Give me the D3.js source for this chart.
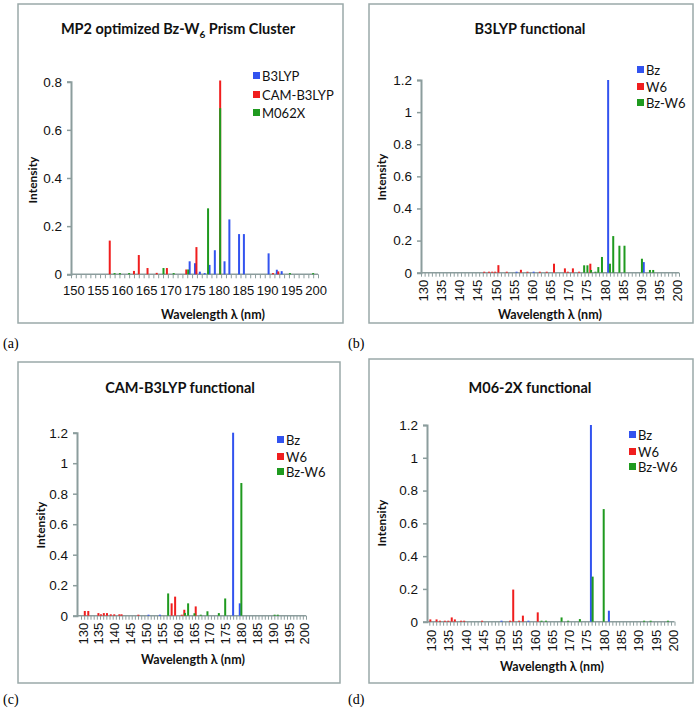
<!DOCTYPE html>
<html>
<head>
<meta charset="utf-8">
<script src="https://cdn.jsdelivr.net/npm/d3@7"></script>
<style>
  html, body { margin: 0; padding: 0; background: #fff; }
  svg { display: block; font-family: Lato, "Open Sans", sans-serif; }
</style>
</head>
<body>
<svg id="chart" width="694" height="712"></svg>
<script>
// ---------- DATA (wavelength nm, intensity) ----------
// Panel (a): MP2 optimized Bz-W6 prism cluster
const a_B3LYP = [[174.0,0.054],[175.1,0.046],[176.1,0.011],[177.1,0.005],[178.1,0.039],[179.2,0.100],[181.2,0.054],[182.2,0.228],[184.2,0.167],[185.2,0.167],[190.3,0.087],[192.0,0.019],[193.0,0.013]];
const a_CAMB3LYP = [[157.5,0.140],[162.5,0.014],[163.5,0.080],[165.3,0.026],[167.2,0.006],[169.3,0.026],[173.3,0.020],[175.4,0.113],[180.3,0.805],[191.2,0.005],[192.3,0.012]];
const a_M062X = [[158.5,0.005],[159.6,0.005],[161.5,0.005],[168.6,0.026],[170.7,0.005],[173.7,0.020],[177.8,0.274],[180.3,0.690],[194.7,0.005],[199.5,0.005]];

// Panel (b): B3LYP functional
const b_Bz = [[155.8,0.006],[160.5,0.006],[181.0,1.2],[190.8,0.066]];
const b_W6 = [[146.9,0.006],[148.2,0.006],[149.1,0.006],[149.9,0.006],[150.8,0.047],[153.1,0.006],[157.0,0.018],[158.8,0.006],[162.2,0.005],[164.1,0.006],[166.1,0.056],[169.1,0.027],[169.9,0.006],[171.3,0.027],[173.0,0.006],[176.1,0.056]];
const b_BzW6 = [[174.4,0.046],[175.3,0.046],[176.3,0.017],[177.5,0.006],[178.3,0.035],[179.3,0.098],[181.5,0.056],[182.4,0.228],[184.1,0.168],[185.5,0.168],[190.3,0.087],[192.5,0.017],[193.4,0.017]];

// Panel (c): CAM-B3LYP functional
const c_Bz = [[150.8,0.005],[154.4,0.005],[177.5,1.2],[179.6,0.081]];
const c_W6 = [[130.7,0.031],[131.8,0.031],[135.0,0.017],[135.8,0.009],[136.7,0.017],[137.7,0.017],[138.9,0.009],[140.0,0.009],[141.6,0.009],[142.3,0.009],[147.6,0.005],[158.1,0.081],[159.2,0.125],[161.3,0.006],[162.1,0.039],[165.7,0.061]];
const c_BzW6 = [[157.0,0.146],[162.3,0.018],[163.3,0.081],[165.3,0.016],[167.3,0.006],[169.4,0.029],[173.0,0.017],[175.0,0.113],[180.1,0.870],[190.6,0.006],[191.6,0.006]];

// Panel (d): M06-2X functional
const d_Bz = [[150.4,0.006],[158.2,0.006],[176.3,1.2],[181.5,0.067]];
const d_W6 = [[129.8,0.014],[131.6,0.014],[132.6,0.006],[134.0,0.006],[135.0,0.006],[136.0,0.026],[136.9,0.014],[138.7,0.006],[139.6,0.006],[144.8,0.006],[152.9,0.006],[153.8,0.196],[155.5,0.006],[156.6,0.037],[160.9,0.057]];
const d_BzW6 = [[162.0,0.006],[163.3,0.006],[167.8,0.026],[169.7,0.006],[173.1,0.016],[176.8,0.275],[180.0,0.687],[191.7,0.006],[193.6,0.006],[198.6,0.006]];

// Axis tick values
const ticksA_x = [150,155,160,165,170,175,180,185,190,195,200];
const ticksBCD_x = [130,135,140,145,150,155,160,165,170,175,180,185,190,195,200];
const ticksA_y = [0,0.2,0.4,0.6,0.8];
const ticksBCD_y = [0,0.2,0.4,0.6,0.8,1,1.2];

const seriesNamesA = ["B3LYP","CAM-B3LYP","M062X"];
const seriesNamesBCD = ["Bz","W6","Bz-W6"];
const colors = ["#3253ef","#f01e1e","#1f9a1f"];

// ---------- LAYOUT ----------
const panels = [
  { tag:"(a)", tagX:3, tagY:348, box:[18,4,325,319],
    title:["MP2 optimized Bz-W","6"," Prism Cluster"], titleX:178, titleY:34,
    yAxisX:71, y0:274.3, y1:81.7, yMax:0.8, yTicks:ticksA_y,
    xDom:[149.5,200.5], xR:[71,318], xTicks:ticksA_x, rotate:false,
    names:seriesNamesA, data:[a_B3LYP,a_CAMB3LYP,a_M062X],
    legX:253, legY:[76,95,113], yTitleX:33, yTitleY:180, xTitleX:213, xTitleY:319 },
  { tag:"(b)", tagX:348, tagY:348, box:[369,4,324,319],
    title:["B3LYP functional"], titleX:530, titleY:34,
    yAxisX:421, y0:272.7, y1:80, yMax:1.2, yTicks:ticksBCD_y,
    xDom:[129.5,200.5], xR:[421,679], xTicks:ticksBCD_x, rotate:true, labGap:7,
    names:seriesNamesBCD, data:[b_Bz,b_W6,b_BzW6],
    legX:637, legY:[70,87,103], yTitleX:382, yTitleY:177, xTitleX:550, xTitleY:319 },
  { tag:"(c)", tagX:3, tagY:704, box:[18,362,322,321],
    title:["CAM-B3LYP functional"], titleX:180, titleY:393,
    yAxisX:77, y0:615.7, y1:432.7, yMax:1.2, yTicks:ticksBCD_y,
    xDom:[129.5,200.5], xR:[81,306], xTicks:ticksBCD_x, rotate:true, labGap:7,
    names:seriesNamesBCD, data:[c_Bz,c_W6,c_BzW6],
    legX:277, legY:[440,457,472], yTitleX:41, yTitleY:525, xTitleX:193, xTitleY:664 },
  { tag:"(d)", tagX:348, tagY:704, box:[369,359,324,324],
    title:["M06-2X functional"], titleX:530, titleY:393,
    yAxisX:427, y0:621.7, y1:425, yMax:1.2, yTicks:ticksBCD_y,
    xDom:[129.5,200.5], xR:[429.3,674.5], xTicks:ticksBCD_x, rotate:true, labGap:8,
    names:seriesNamesBCD, data:[d_Bz,d_W6,d_BzW6],
    legX:629, legY:[435,452,467], yTitleX:382, yTitleY:523, xTitleX:552, xTitleY:671 }
];

const svg = d3.select("#chart");
const axisColor = "#8c9d9d";
const fmt = d => String(+d.toFixed(1));

panels.forEach(p => {
  const g = svg.append("g");
  // frame
  g.append("rect").attr("x",p.box[0]).attr("y",p.box[1]).attr("width",p.box[2]).attr("height",p.box[3])
    .attr("fill","none").attr("stroke","#9aa9a9").attr("stroke-width",1.5);
  // panel tag
  svg.append("text").attr("x",p.tagX).attr("y",p.tagY).text(p.tag)
    .style("font-family","'Liberation Serif', 'Times New Roman', serif").style("font-size","14px");
  // title
  const t = g.append("text").attr("x",p.titleX).attr("y",p.titleY).attr("text-anchor","middle")
    .style("font-weight","bold").style("font-size","14.5px").attr("fill","#111");
  if (p.title.length === 3) {
    t.append("tspan").text(p.title[0]);
    t.append("tspan").text(p.title[1]).attr("dy",4).style("font-size","10px");
    t.append("tspan").text(p.title[2]).attr("dy",-4);
  } else t.text(p.title[0]);

  const x = d3.scaleLinear().domain(p.xDom).range(p.xR);
  const y = d3.scaleLinear().domain([0,p.yMax]).range([p.y0,p.y1]);

  // y axis
  const ya = g.append("g").attr("transform",`translate(${p.yAxisX},0)`)
    .call(d3.axisLeft(y).tickValues(p.yTicks).tickSize(4).tickFormat(fmt));
  ya.select(".domain").attr("stroke",axisColor).attr("stroke-width",2);
  ya.selectAll(".tick line").attr("stroke",axisColor).attr("stroke-width",1.5);
  ya.selectAll(".tick text").attr("x",-9).style("font-size","13.5px").attr("fill","#111");

  // x axis: minor ticks at category boundaries
  const bounds = d3.range(p.xDom[0], p.xDom[1]+0.01, 1);
  const xa = g.append("g").attr("transform",`translate(0,${p.y0})`)
    .call(d3.axisBottom(x).tickValues(bounds).tickSize(4).tickFormat(""));
  xa.select(".domain").remove();
  xa.selectAll(".tick line").attr("stroke",axisColor).attr("stroke-width",1);
  g.append("line").attr("x1",p.yAxisX).attr("x2",p.xR[1]).attr("y1",p.y0).attr("y2",p.y0)
    .attr("stroke",axisColor).attr("stroke-width",1.5);

  // x labels
  const xl = g.append("g").attr("transform",`translate(0,${p.y0})`)
    .call(d3.axisBottom(x).tickValues(p.xTicks).tickSize(0).tickFormat(d3.format("d")));
  xl.select(".domain").remove();
  const txt = xl.selectAll(".tick text").style("font-size","13px").attr("fill","#111");
  if (p.rotate) {
    txt.attr("transform","rotate(-90)").attr("x",-p.labGap).attr("y",0).attr("dy","0.35em")
       .style("text-anchor","end");
  } else {
    txt.attr("y",11);
  }

  // bars
  const bw = 2;
  p.data.forEach((ser, si) => {
    g.append("g").selectAll("rect").data(ser).join("rect")
      .attr("x", d => x(d[0]) - bw/2)
      .attr("width", bw)
      .attr("y", d => Math.min(y(d[1]), p.y0 - 1))
      .attr("height", d => Math.max(p.y0 - y(d[1]), 1))
      .attr("fill", colors[si]);
  });

  // legend
  p.names.forEach((n, i) => {
    g.append("rect").attr("x",p.legX).attr("y",p.legY[i]-4).attr("width",7).attr("height",7).attr("fill",colors[i]);
    g.append("text").attr("x",p.legX+9).attr("y",p.legY[i]).attr("dy","0.35em").text(n)
      .style("font-size","13px").attr("fill","#111");
  });

  // axis titles
  g.append("text").attr("transform",`translate(${p.yTitleX},${p.yTitleY}) rotate(-90)`)
    .attr("text-anchor","middle").attr("dy","0.35em").text("Intensity")
    .style("font-weight","bold").style("font-size","12px").attr("fill","#111");
  g.append("text").attr("x",p.xTitleX).attr("y",p.xTitleY).attr("text-anchor","middle")
    .text("Wavelength λ (nm)").style("font-weight","bold").style("font-size","12.5px").attr("fill","#111");
});
</script>
</body>
</html>
